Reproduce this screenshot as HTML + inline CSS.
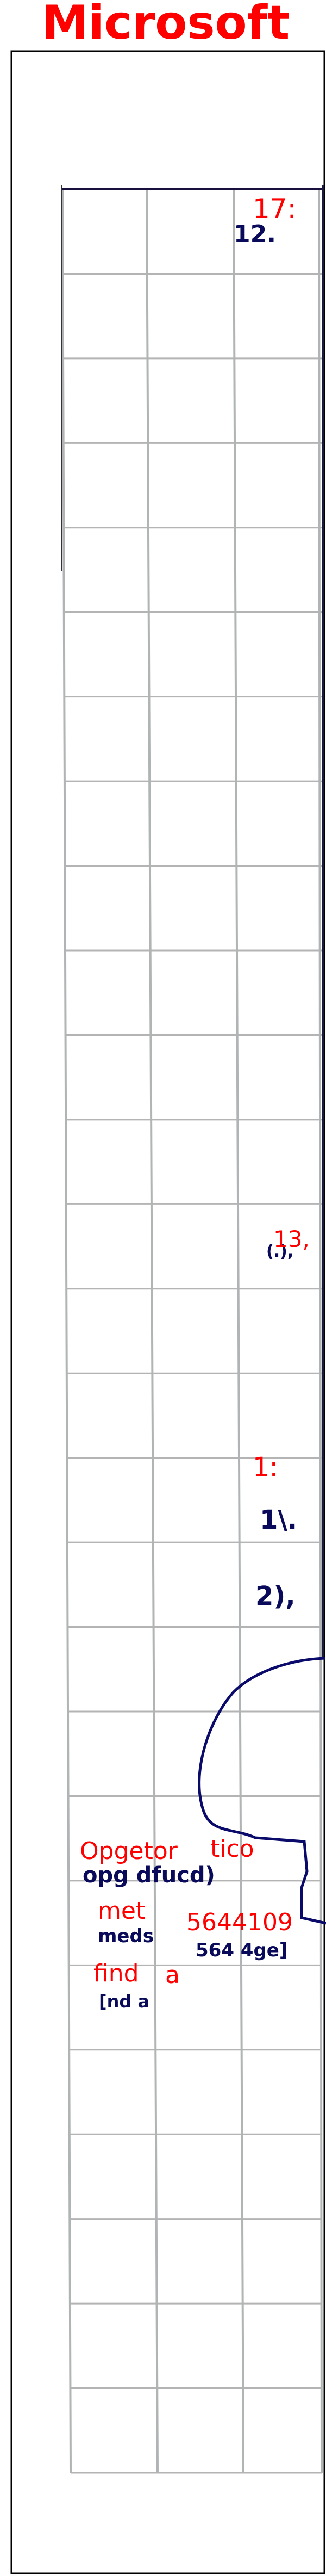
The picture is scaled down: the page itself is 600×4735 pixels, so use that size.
<!DOCTYPE html>
<html><head><meta charset="utf-8">
<style>
html,body{margin:0;padding:0;background:#fff;}
svg{display:block;}
.red{fill:#ff0000;font-family:"DejaVu Sans","Liberation Sans",sans-serif;}
.ink{fill:#0a0a5a;font-family:"DejaVu Sans","Liberation Sans",sans-serif;font-weight:bold;}
</style></head>
<body>
<svg width="600" height="4735" viewBox="0 0 600 4735" xmlns="http://www.w3.org/2000/svg">
  <text x="305" y="71" text-anchor="middle" class="red" font-size="86" font-weight="bold">Microsoft</text>
  <rect x="21" y="94" width="576" height="4636" fill="none" stroke="#000" stroke-width="3"/>
  <g id="grid"></g>
  <line x1="115" y1="348" x2="592" y2="347" stroke="#1a1040" stroke-width="4"/>
  <line x1="594" y1="340" x2="594" y2="3050" stroke="#1a1a3a" stroke-width="4"/>
  <line x1="113" y1="340" x2="113" y2="1050" stroke="#333" stroke-width="2"/>
  <path d="M598 3048 C 540 3050 470 3070 430 3110 C 385 3160 350 3260 375 3330 C 390 3370 430 3360 470 3378 L 560 3385 L 565 3440 L 555 3470 L 555 3525 L 600 3535" fill="none" stroke="#0a0a6a" stroke-width="5"/>
  <text x="430" y="445" class="ink" font-size="44">12.</text>
  <text x="490" y="2310" class="ink" font-size="30">(.),</text>
  <text x="478" y="2810" class="ink" font-size="48">1\.</text>
  <text x="470" y="2950" class="ink" font-size="48">2),</text>
  <text x="152" y="3460" class="ink" font-size="40">opg dfucd)</text>
  <text x="180" y="3570" class="ink" font-size="34">meds</text>
  <text x="360" y="3596" class="ink" font-size="34">564 4ge]</text>
  <text x="182" y="3690" class="ink" font-size="32">[nd a</text>
  <text x="465" y="401" class="red" font-size="50">17:</text>
  <text x="503" y="2292" class="red" font-size="42">13,</text>
  <text x="465" y="2713" class="red" font-size="48">1:</text>
  <text x="147" y="3417" class="red" font-size="44">Opgetor</text>
  <text x="387" y="3413" class="red" font-size="44">tico</text>
  <text x="180" y="3527" class="red" font-size="44">met</text>
  <text x="343" y="3548" class="red" font-size="44">5644109</text>
  <text x="172" y="3642" class="red" font-size="44">find</text>
  <text x="304" y="3645" class="red" font-size="44">a</text>
</svg>
<script>
const rowCount = 27;
const grid = document.getElementById('grid');
const ns = 'http://www.w3.org/2000/svg';
const top0 = 348, bottom0 = 4545;
const step = (bottom0 - top0) / rowCount;
for (let i = 1; i <= rowCount; i++) {
  const y = top0 + i * step;
  const t = i / rowCount;
  const l = document.createElementNS(ns, 'line');
  l.setAttribute('x1', 115 + 15 * t); l.setAttribute('x2', 592);
  l.setAttribute('y1', y); l.setAttribute('y2', y);
  l.setAttribute('stroke', '#b4b4b4'); l.setAttribute('stroke-width', '3');
  
  
  grid.appendChild(l);
}
const cols = [[115, 130], [270, 290], [430, 448], [587, 592]];
cols.forEach(c => {
  const l = document.createElementNS(ns, 'line');
  l.setAttribute('x1', c[0]); l.setAttribute('x2', c[1]);
  l.setAttribute('y1', top0); l.setAttribute('y2', bottom0);
  l.setAttribute('stroke', '#b0b4b4'); l.setAttribute('stroke-width', '4');
  
  
  grid.appendChild(l);
});
</script>
</body></html>
